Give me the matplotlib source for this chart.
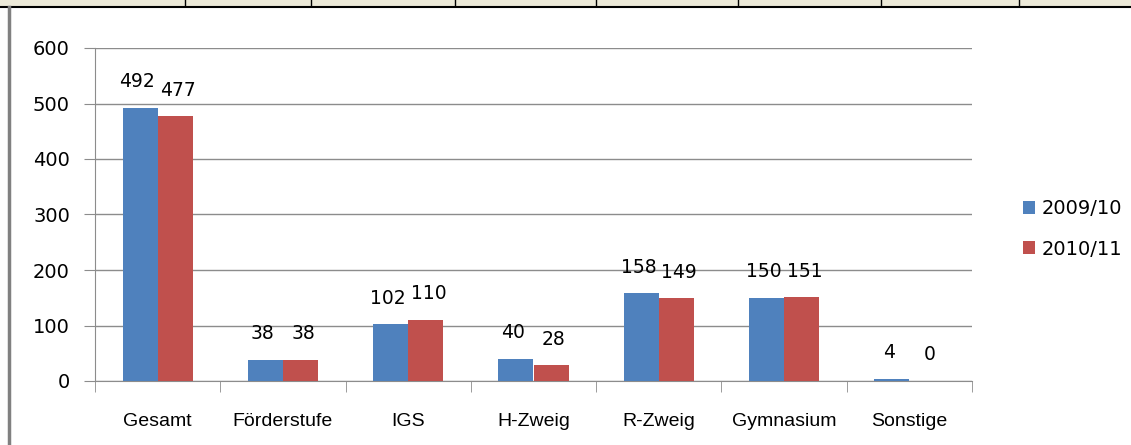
import matplotlib
matplotlib.use("Agg")
import matplotlib.pyplot as plt
import numpy as np
from matplotlib.patches import Rectangle
from matplotlib.lines import Line2D

categories = ["Gesamt", "Förderstufe", "IGS", "H-Zweig", "R-Zweig", "Gymnasium", "Sonstige"]
series_names = ["2009/10", "2010/11"]
values_2009 = [492, 38, 102, 40, 158, 150, 4]
values_2010 = [477, 38, 110, 28, 149, 151, 0]
yticks = [0, 100, 200, 300, 400, 500, 600]

colors = ["#4F81BD", "#C0504D"]
plt.rcParams['font.family'] = ['DejaVu Sans']

W, H = 1131, 445
fig = plt.figure(figsize=(W / 100, H / 100), dpi=100)

# spreadsheet strip at top and left border
fig.add_artist(Rectangle((0, 1 - 6 / H), 1, 6 / H, transform=fig.transFigure,
                         facecolor="#ECE9D8", edgecolor="none"))
fig.add_artist(Line2D([0, 1], [1 - 6.5 / H] * 2, transform=fig.transFigure, color="black", lw=1.5))
for xp in [185, 311, 455, 596, 738, 881, 1019]:
    fig.add_artist(Line2D([xp / W] * 2, [1 - 6 / H, 1], transform=fig.transFigure, color="black", lw=1))
fig.add_artist(Line2D([8.5 / W] * 2, [0, 1 - 7 / H], transform=fig.transFigure, color="#808080", lw=2.5))

ax = fig.add_axes([95 / W, 1 - 381 / H, (972 - 95) / W, (381 - 48) / H])
x = np.arange(len(categories))
bw = 0.28
b1 = ax.bar(x - bw / 2, values_2009, bw, color=colors[0], label=series_names[0], zorder=3)
b2 = ax.bar(x + bw / 2, values_2010, bw, color=colors[1], label=series_names[1], zorder=3)

numfs = 13.5
for bars, vals, dx in [(b1, values_2009, -2), (b2, values_2010, 2)]:
    for rect, v in zip(bars, vals):
        ax.annotate(str(v), (rect.get_x() + rect.get_width() / 2, v), xytext=(dx, 12),
                    textcoords="offset points", ha="center", va="bottom", fontsize=numfs)

ax.set_xlim(-0.5, len(categories) - 0.5)
ax.set_ylim(0, 600)
ax.set_yticks(yticks)
ax.set_yticklabels([str(t) for t in yticks], fontsize=14)
ax.yaxis.grid(True, color="#8C8C8C", lw=1, zorder=0)
ax.set_xticks(x)
ax.set_xticklabels(categories, fontsize=14, family=['Liberation Sans', 'DejaVu Sans'])
ax.tick_params(axis="x", length=0, pad=23)
ax.set_xticks(np.arange(-0.5, len(categories)), minor=True)
ax.tick_params(axis="x", which="minor", length=8, color="#8C8C8C", direction="out")
ax.tick_params(axis="y", length=8, color="#8C8C8C", pad=10, direction="out")
for s in ["top", "right"]:
    ax.spines[s].set_visible(False)
ax.spines["left"].set_color("#8C8C8C")
ax.spines["bottom"].set_color("#8C8C8C")

fig.legend(handles=[b1, b2], labels=series_names, loc="center left",
           bbox_to_anchor=(1005 / W, 1 - 229 / H), frameon=False, fontsize=14,
           handlelength=0.65, handleheight=0.65, handletextpad=0.35, labelspacing=1.1)

fig.savefig("out.png", dpi=100, facecolor="white")
